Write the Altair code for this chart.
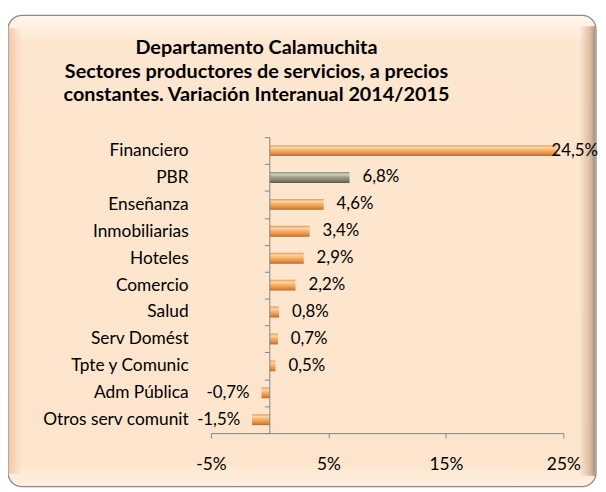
import altair as alt
import pandas as pd

sectors = ["Financiero", "PBR", "Enseñanza", "Inmobiliarias", "Hoteles", "Comercio",
           "Salud", "Serv Domést", "Tpte y Comunic", "Adm Pública", "Otros serv comunit"]
values = [24.5, 6.8, 4.6, 3.4, 2.9, 2.2, 0.8, 0.7, 0.5, -0.7, -1.5]
x_ticks = [-5, 5, 15, 25]
title_lines = ["Departamento Calamuchita",
               "Sectores productores de servicios, a precios",
               "constantes. Variación Interanual 2014/2015"]

df = pd.DataFrame({"sector": sectors, "value": values})

FONT = "Lato"
W, H = 356, 299

orange = alt.Gradient(gradient="linear", x1=0, x2=0, y1=0, y2=1, stops=[
    alt.GradientStop(color="#E39A5A", offset=0),
    alt.GradientStop(color="#FCD6A2", offset=0.22),
    alt.GradientStop(color="#F6B46E", offset=0.45),
    alt.GradientStop(color="#E58E42", offset=0.78),
    alt.GradientStop(color="#B9672A", offset=1)])
gray = alt.Gradient(gradient="linear", x1=0, x2=0, y1=0, y2=1, stops=[
    alt.GradientStop(color="#8E8E7C", offset=0),
    alt.GradientStop(color="#CFCFBA", offset=0.22),
    alt.GradientStop(color="#A5A58E", offset=0.45),
    alt.GradientStop(color="#7C7C6A", offset=0.78),
    alt.GradientStop(color="#5A5A4C", offset=1)])

bg_fill = alt.Gradient(gradient="linear", x1=0, x2=0, y1=0, y2=1, stops=[
    alt.GradientStop(color="#FFF6EC", offset=0),
    alt.GradientStop(color="#FDE6CF", offset=0.06),
    alt.GradientStop(color="#FDE5CD", offset=0.95),
    alt.GradientStop(color="#FEF0E2", offset=1)])
shadow_r = alt.Gradient(gradient="linear", x1=0, x2=1, y1=0, y2=0, stops=[
    alt.GradientStop(color="rgba(200,160,130,0)", offset=0),
    alt.GradientStop(color="rgba(190,150,120,0.55)", offset=0.7),
    alt.GradientStop(color="rgba(150,120,100,0.8)", offset=1)])
shadow_l = alt.Gradient(gradient="linear", x1=0, x2=1, y1=0, y2=0, stops=[
    alt.GradientStop(color="rgba(235,185,150,0.7)", offset=0),
    alt.GradientStop(color="rgba(245,205,170,0)", offset=1)])

frame_data = pd.DataFrame({"k": [0]})
frame = alt.Chart(frame_data).mark_rect(
    cornerRadius=14, stroke="#8A8A8A", strokeWidth=1.3, fill=bg_fill, clip=False
).encode(x=alt.value(-205), x2=alt.value(389), y=alt.value(-123), y2=alt.value(353))
right_shadow = alt.Chart(frame_data).mark_rect(fill=shadow_r, clip=False).encode(
    x=alt.value(372), x2=alt.value(388), y=alt.value(-112), y2=alt.value(342))
left_shadow = alt.Chart(frame_data).mark_rect(fill=shadow_l, clip=False).encode(
    x=alt.value(-204), x2=alt.value(-190), y=alt.value(-110), y2=alt.value(340))

title = alt.Chart(frame_data).mark_text(
    text=title_lines, font=FONT, fontSize=20, fontWeight="bold", color="#000000",
    align="center", baseline="alphabetic", lineHeight=24, clip=False
).encode(x=alt.value(46), y=alt.value(-84))

axis_common = dict(labelFont=FONT, labelFontSize=17.5, labelColor="#000000",
                   domainColor="#868686", tickColor="#868686", zindex=2, tickSize=5)

y_axis = alt.Axis(title=None, offset=-59, tickBand="extent",
                  labelPadding=77, labelAlign="right", **axis_common)
x_scale = alt.Scale(domain=[-5, 25], nice=False, zero=False)
x_axis = alt.Axis(title=None, values=x_ticks, labelPadding=18, grid=False,
                  labelFlush=False, labelExpr="datum.value + '%'", **axis_common)

y_enc = alt.Y("sector:N", sort=sectors,
              scale=alt.Scale(paddingInner=0, paddingOuter=0), axis=y_axis)

base = alt.Chart(df).encode(y=y_enc)

bars = base.mark_bar(size=11).encode(
    x=alt.X("value:Q", scale=x_scale, axis=x_axis), x2=alt.datum(0),
    fill=alt.condition(alt.datum.sector == "PBR", alt.value(gray), alt.value(orange)))

lbl = base.transform_calculate(
    lab="(datum.value < 0 ? '-' : '') + replace(format(abs(datum.value), '.1f'), '.', ',') + '%'",
    lpos="min(datum.value, 22.9)")
pos_lbl = lbl.transform_filter(alt.datum.value >= 0).mark_text(
    align="left", dx=13, font=FONT, fontSize=17, color="#000000", clip=False
).encode(x=alt.X("lpos:Q", scale=x_scale, axis=x_axis), text="lab:N")
neg_lbl = lbl.transform_filter(alt.datum.value < 0).mark_text(
    align="right", dx=-12, font=FONT, fontSize=17, color="#000000", clip=False
).encode(x=alt.X("lpos:Q", scale=x_scale, axis=x_axis), text="lab:N")

chart = alt.layer(frame, left_shadow, right_shadow, bars, pos_lbl, neg_lbl, title).properties(
    width=W, height=H,
    autosize=alt.AutoSizeParams(type="none"),
    padding={"left": 205, "top": 128, "right": 35, "bottom": 55},
    background="white"
).configure_view(stroke=None)

chart.save("out.html", embed_options={"renderer": "svg", "actions": False})
